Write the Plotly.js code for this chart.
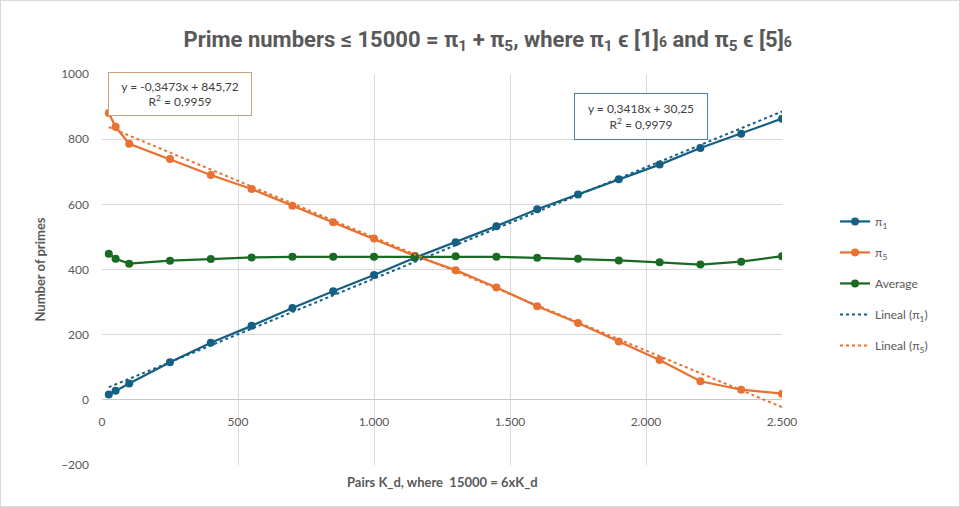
<!DOCTYPE html>
<html>
<head>
<meta charset="utf-8">
<script src="https://cdn.plot.ly/plotly-3.0.1.min.js"></script>
<style>
  body { margin: 0; background: #fff; }
  #chart-area { width: 958px; height: 505px; border: 1px solid #d9d9d9; }
</style>
</head>
<body>
<div id="chart-area"></div>
<script>
// pairs K_d on the x axis
const kd = [25, 50, 100, 250, 400, 550, 700, 850, 1000, 1150, 1300, 1450, 1600, 1750, 1900, 2050, 2200, 2350, 2500];
// primes in class [1]6 and [5]6
const pi1 = [16, 28, 50, 115, 175, 227, 282, 333, 383, 436, 484, 533, 585, 630, 677, 722, 773, 817, 863];
const pi5 = [880, 838, 786, 739, 690, 647, 596, 545, 495, 442, 398, 345, 287, 236, 179, 122, 57, 31, 19];
const avg = [448, 433, 418, 427, 432, 437, 439, 439, 439, 439, 441, 439, 436, 433, 428, 422, 415, 424, 441];

// linear trend coefficients (as printed on the chart)
const trendSlope = [0.3418, -0.3473];
const trendIntercept = [30.25, 845.72];
const trendR2 = [0.9979, 0.9959];

const xTicks = [0, 500, 1000, 1500, 2000, 2500];
const yTicks = [-200, 0, 200, 400, 600, 800, 1000];

const colors = ["#156082", "#E97132", "#196B24"];
const textGray = "#595959";
const gridGray = "#d9d9d9";

function fmt(v, d) {
  return v.toFixed(d).replace(".", ",");
}

// two end points of each trend line, over the data range
function trendTrace(k, name) {
  let xs = [kd[0], kd[kd.length - 1]];
  let ys = xs.map((x) => trendSlope[k] * x + trendIntercept[k]);
  return {
    x: xs,
    y: ys,
    type: "scatter",
    mode: "lines",
    name: name,
    legendgroup: "t" + k,
    line: { color: colors[k], width: 2, dash: "dot" },
    hoverinfo: "none",
  };
}

function seriesTrace(ys, k, name) {
  return {
    x: kd,
    y: ys,
    type: "scatter",
    mode: "lines+markers",
    name: name,
    legendgroup: "s" + k,
    line: { color: colors[k], width: 2.25 },
    marker: { color: colors[k], size: 8 },
  };
}

let data = [
  seriesTrace(pi1, 0, "π<sub>1</sub>"),
  seriesTrace(pi5, 1, "π<sub>5</sub>"),
  seriesTrace(avg, 2, "Average"),
  trendTrace(0, "Lineal (π<sub>1</sub>)"),
  trendTrace(1, "Lineal (π<sub>5</sub>)"),
];

function eqText(k) {
  let sign = trendIntercept[k] >= 0 ? "+" : "-";
  return (
    "y = " + fmt(trendSlope[k], 4) + "x " + sign + " " + fmt(Math.abs(trendIntercept[k]), 2) +
    "<br>R<sup>2</sup> = " + fmt(trendR2[k], 4)
  );
}

const baseFont = "Lato, 'Open Sans', sans-serif";

var layout = {
  width: 958,
  height: 505,
  paper_bgcolor: "#ffffff",
  plot_bgcolor: "#ffffff",
  separators: ",.",
  font: { family: baseFont, size: 12, color: textGray },
  margin: { l: 101, r: 177, t: 73, b: 41 },
  title: {
    text:
      "Prime numbers ≤ 15000 = π<sub>1</sub> + π<sub>5</sub>, where π<sub>1</sub> ϵ [1]<span style='font-size:14px'>6</span> and π<sub>5</sub> ϵ [5]<span style='font-size:14px'>6</span>",
    font: { family: "Roboto, sans-serif", size: 22, color: textGray, weight: "bold" },
    x: 0.508,
    xanchor: "center",
    y: 0.925,
    yanchor: "middle",
  },
  xaxis: {
    range: [0, 2500],
    tickvals: xTicks,
    tickformat: ",",
    showgrid: true,
    gridcolor: gridGray,
    gridwidth: 1,
    zeroline: false,
    showline: false,
    anchor: "free",
    position: 200 / 1200, // axis sits at y = 0
    ticks: "",
    ticklabelstandoff: 13,
    tickfont: { size: 12, color: textGray },
  },
  yaxis: {
    range: [-200, 1000],
    tickvals: yTicks,
    showgrid: true,
    gridcolor: gridGray,
    gridwidth: 1,
    zeroline: true,
    zerolinecolor: "#c8c8c8",
    zerolinewidth: 1,
    ticks: "",
    ticklabelstandoff: 12,
    tickfont: { size: 12, color: textGray },
    title: {
      text: "Number of primes",
      font: { size: 13, color: textGray, weight: "bold" },
      standoff: 12,
    },
  },
  legend: {
    x: 1.078,
    xanchor: "left",
    y: 0.66,
    yanchor: "top",
    font: { size: 12, color: textGray },
    tracegroupgap: 12,
    bgcolor: "rgba(0,0,0,0)",
  },
  annotations: [
    {
      text: "Pairs K_d, where  15000 = 6xK_d",
      xref: "paper",
      yref: "paper",
      x: 0.5,
      y: -0.043,
      xanchor: "center",
      yanchor: "middle",
      showarrow: false,
      font: { size: 13, color: textGray, weight: "bold" },
    },
    {
      text: eqText(1),
      xref: "x",
      yref: "y",
      x: 286,
      y: 938,
      width: 136,
      height: 36,
      showarrow: false,
      align: "center",
      bgcolor: "#ffffff",
      bordercolor: "#c9a27e",
      borderwidth: 1,
      borderpad: 3,
      font: { size: 12, color: "#404040" },
    },
    {
      text: eqText(0),
      xref: "x",
      yref: "y",
      x: 1980,
      y: 870,
      width: 126,
      height: 39,
      showarrow: false,
      align: "center",
      bgcolor: "#ffffff",
      bordercolor: "#4f7f9f",
      borderwidth: 1,
      borderpad: 3,
      font: { size: 12, color: "#404040" },
    },
  ],
};

var config = { displayModeBar: false, staticPlot: true };

Plotly.newPlot("chart-area", data, layout, config);
</script>
</body>
</html>
